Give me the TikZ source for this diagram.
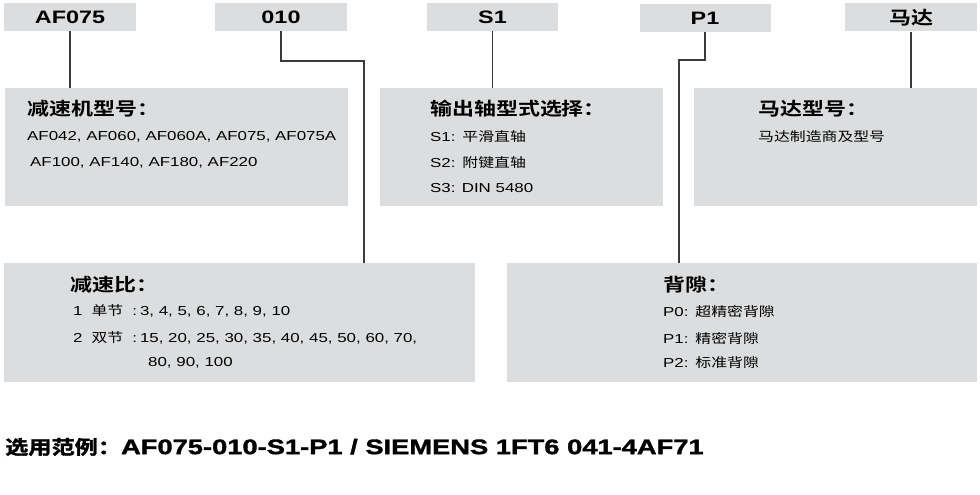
\documentclass[tikz,border=0pt]{standalone}
\usepackage{fontspec}
\usepackage{tikz}
\usetikzlibrary{positioning}
\setmainfont{Liberation Sans}[FakeStretch=1.3]
\newfontfamily\cjk{Noto Sans CJK SC}[FakeStretch=1.22, BoldFont={* Bold}]
\newfontfamily\heavy{Liberation Sans Bold}[FakeStretch=1.3, FakeBold=1.6]
\newfontfamily\cjkheavy{Noto Sans CJK SC Bold}[FakeStretch=1.22, FakeBold=1.6]
\definecolor{boxgray}{HTML}{DCDDDE}
\definecolor{linegray}{HTML}{3A3A3A}

\begin{document}
\begin{tikzpicture}
    [x=1pt, y=-1pt,
     tagbox/.style = {fill=boxgray, minimum width=132pt, minimum height=28pt, inner sep=0pt, font=\fontsize{18}{20}\selectfont\bfseries},
     infobox/.style = {fill=boxgray, minimum height=118pt, inner sep=0pt},
     head/.style = {anchor=west, inner sep=0pt, font=\cjk\bfseries\fontsize{18}{20}\selectfont},
     item/.style = {anchor=west, inner sep=0pt, font=\fontsize{13}{15}\selectfont},
     link/.style = {draw=linegray, line width=1.3pt}]

    \fill[white] (0,0) rectangle (980,495);

    % code tags
    \node[tagbox] (tAF) at (70,17) {AF075};
    \node[tagbox] (t010) at (281,17) {010};
    \node[tagbox, minimum width=131pt] (tS1) at (492.5,17) {S1};
    \node[tagbox, minimum width=131pt] (tP1) at (705,18) {P1};
    \node[tagbox] (tMotor) at (911,17.5) {{\cjk\bfseries 马达}};

    % explanation boxes
    \node[infobox, minimum width=343pt] (bType) at (176.5,147) {};
    \node[infobox, minimum width=283pt] (bShaft) at (521.5,147) {};
    \node[infobox, minimum width=283pt] (bMotor) at (835.5,147) {};
    \node[infobox, minimum width=471pt, minimum height=119pt] (bRatio) at (239.5,322.5) {};
    \node[infobox, minimum width=470pt, minimum height=119pt] (bBack) at (742,322.5) {};

    \coordinate (k010) at (364,61);
    \coordinate (kP1) at (679,60);

    \draw[link] (tAF.south) -- (tAF.south |- bType.north);
    \draw[link] (t010.south) |- (k010) -- (k010 |- bRatio.north);
    \draw[link] (tS1.south) -- (tS1.south |- bShaft.north);
    \draw[link] (tP1.south) |- (kP1) -- (kP1 |- bBack.north);
    \draw[link] (tMotor.south) -- (tMotor.south |- bMotor.north);

    % box texts
    \node[head] (hType) at (27,109) {减速机型号：};
    \node[item] (type1) at (27,137) {AF042, AF060, AF060A, AF075, AF075A};
    \node[item] (type2) at (30,163) {AF100, AF140, AF180, AF220};

    \node[head] (hShaft) at (430,109) {输出轴型式选择：};
    \node[item] (shaft1) at (430,137) {S1:\ \,{\cjk 平滑直轴}};
    \node[item] (shaft2) at (430,163) {S2:\ \,{\cjk 附键直轴}};
    \node[item] (shaft3) at (430,188) {S3: DIN 5480};

    \node[head] (hMotor) at (758,109) {马达型号：};
    \node[item] (motor1) at (758,137) {\cjk 马达制造商及型号};

    \node[head] (hRatio) at (70,285) {减速比：};
    \node[item] (ratio1) at (73,311) {1\hspace{9pt}{\cjk 单节}\hspace{9pt}:\hspace{3pt}3, 4, 5, 6, 7, 8, 9, 10};
    \node[item] (ratio2) at (73,338) {2\hspace{9pt}{\cjk 双节}\hspace{9pt}:\hspace{3pt}15, 20, 25, 30, 35, 40, 45, 50, 60, 70,};
    \node[item] (ratio3) at (148,363) {80, 90, 100};

    \node[head] (hBack) at (663,285) {背隙：};
    \node[item] (back0) at (663,311) {P0:\ \,{\cjk 超精密背隙}};
    \node[item] (back1) at (663,338) {P1:\ \,{\cjk 精密背隙}};
    \node[item] (back2) at (663,363) {P2:\ \,{\cjk 标准背隙}};

    % example
    \node[anchor=west, inner sep=0pt] (sample) at (5,447)
        {{\cjkheavy\fontsize{19}{22}\selectfont 选用范例：}{\heavy\fontsize{21}{24}\selectfont AF075-010-S1-P1 / SIEMENS 1FT6 041-4AF71}};
\end{tikzpicture}
\end{document}
